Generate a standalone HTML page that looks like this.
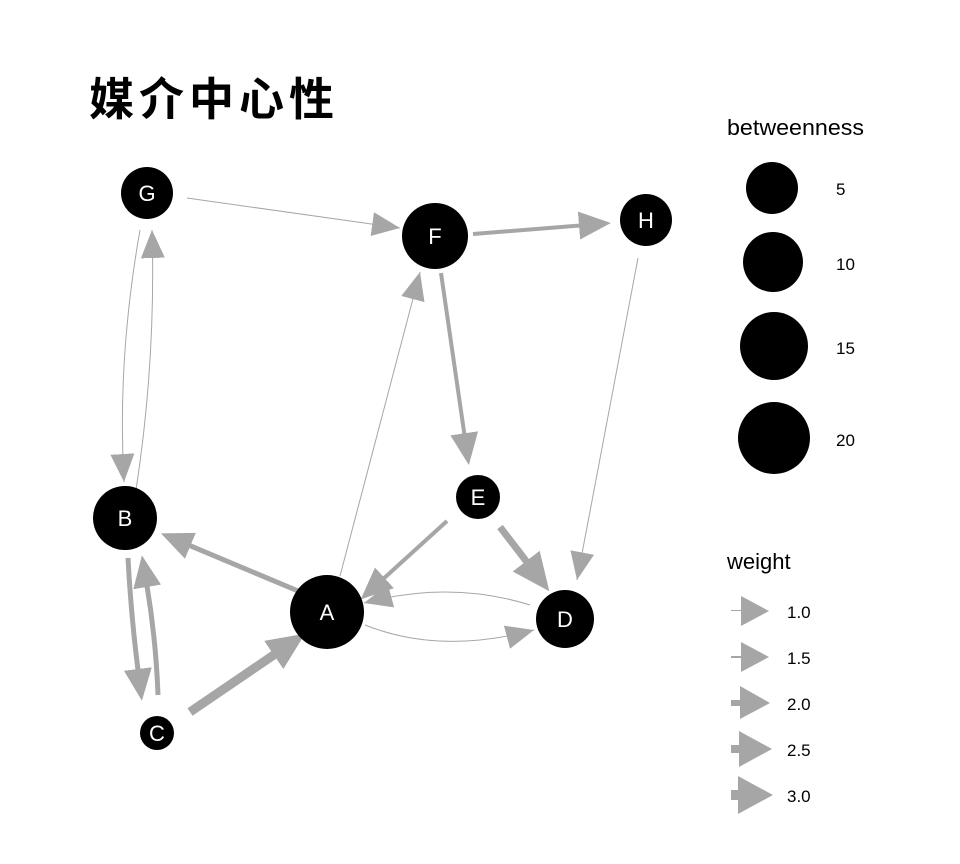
<!DOCTYPE html>
<html><head><meta charset="utf-8"><style>
html,body{margin:0;padding:0;background:#fff;}
svg{display:block;}
text{font-family:"Liberation Sans","Noto Sans CJK SC",sans-serif;}
</style></head><body>
<svg width="960" height="864" viewBox="0 0 960 864" xmlns="http://www.w3.org/2000/svg">
<defs>
<marker id="ah" markerUnits="userSpaceOnUse" markerWidth="30" markerHeight="26" refX="28" refY="13" orient="auto" viewBox="0 0 30 26">
<path d="M0,1 L28,13 L0,25 Z" fill="#a6a6a6"/>
</marker>
<marker id="m2" markerUnits="userSpaceOnUse" markerWidth="34" markerHeight="30" refX="1" refY="15" orient="auto" viewBox="0 0 34 30">
<path d="M0,1 L32,15 L0,29 Z" fill="#a6a6a6"/>
</marker>
<marker id="m3" markerUnits="userSpaceOnUse" markerWidth="40" markerHeight="36" refX="1" refY="18" orient="auto" viewBox="0 0 40 36">
<path d="M0,1 L38,18 L0,35 Z" fill="#a6a6a6"/>
</marker>
</defs>
<rect width="960" height="864" fill="#fff"/>
<text x="89" y="115" font-size="45" font-weight="bold" letter-spacing="5" font-family="'Noto Sans CJK SC',sans-serif" fill="#000">媒介中心性</text>

<g stroke="#a6a6a6" fill="none">
<line x1="187" y1="198" x2="400" y2="228" stroke-width="1" marker-end="url(#ah)"/>
<line x1="473" y1="234" x2="580" y2="225.5" stroke-width="4" marker-end="url(#m2)"/>
<line x1="638" y1="258" x2="577" y2="580" stroke-width="1" marker-end="url(#ah)"/>
<line x1="441" y1="273" x2="464.4" y2="434.3" stroke-width="4" marker-end="url(#m2)"/>
<line x1="500" y1="527" x2="526.8" y2="561.9" stroke-width="7" marker-end="url(#m3)"/>
<line x1="447" y1="521" x2="383.7" y2="578.5" stroke-width="4" marker-end="url(#m2)"/>
<line x1="340" y1="576" x2="420" y2="272" stroke-width="1" marker-end="url(#ah)"/>
<line x1="310" y1="596" x2="189.5" y2="545.4" stroke-width="5" marker-end="url(#m2)"/>
<line x1="190" y1="712" x2="274.6" y2="654.4" stroke-width="9" marker-end="url(#m3)"/>
<path d="M140,230 Q117,360 124,482" stroke-width="1" marker-end="url(#ah)"/>
<path d="M136,490 Q156,360 152,230" stroke-width="1" marker-end="url(#ah)"/>
<path d="M128,558 Q131,615 138,670" stroke-width="5" marker-end="url(#m2)"/>
<path d="M158,695 Q156,640 147,586" stroke-width="5" marker-end="url(#m2)"/>
<path d="M365,625 Q440,655 534,630" stroke-width="1" marker-end="url(#ah)"/>
<path d="M530,605 Q450,580 364,603" stroke-width="1" marker-end="url(#ah)"/>
</g>

<g fill="#000">
<circle cx="147" cy="193" r="26"/>
<circle cx="435" cy="236" r="33"/>
<circle cx="646" cy="220" r="26"/>
<circle cx="125" cy="518" r="32"/>
<circle cx="478" cy="497" r="22"/>
<circle cx="327" cy="612" r="37"/>
<circle cx="565" cy="619" r="29"/>
<circle cx="157" cy="733" r="17"/>
</g>
<g fill="#fff" font-size="22" text-anchor="middle">
<text x="147" y="201">G</text>
<text x="435" y="244">F</text>
<text x="646" y="228">H</text>
<text x="125" y="526">B</text>
<text x="478" y="505">E</text>
<text x="327" y="620">A</text>
<text x="565" y="627">D</text>
<text x="157" y="741">C</text>
</g>

<text x="727" y="135" font-size="22" textLength="137" lengthAdjust="spacingAndGlyphs">betweenness</text>
<g fill="#000">
<circle cx="772" cy="188" r="26"/>
<circle cx="773" cy="262" r="30"/>
<circle cx="774" cy="346" r="34"/>
<circle cx="774" cy="438" r="36"/>
</g>
<g font-size="17">
<text x="836" y="195">5</text>
<text x="836" y="270">10</text>
<text x="836" y="354">15</text>
<text x="836" y="446">20</text>
</g>

<text x="727" y="569" font-size="22">weight</text>
<g fill="#a6a6a6">
<rect x="731" y="610" width="12" height="1"/><path d="M741,596 L769,611 L741,626 Z"/>
<rect x="731" y="656" width="12" height="2"/><path d="M741,642 L769,657 L741,672 Z"/>
<rect x="731" y="700" width="12" height="6"/><path d="M740,686 L770,703 L740,719 Z"/>
<rect x="731" y="745" width="12" height="8"/><path d="M739,731 L772,749 L739,767 Z"/>
<rect x="731" y="790" width="12" height="10"/><path d="M738,776 L773,795 L738,814 Z"/>
</g>
<g font-size="17">
<text x="787" y="618">1.0</text>
<text x="787" y="664">1.5</text>
<text x="787" y="710">2.0</text>
<text x="787" y="756">2.5</text>
<text x="787" y="802">3.0</text>
</g>
</svg>
</body></html>
